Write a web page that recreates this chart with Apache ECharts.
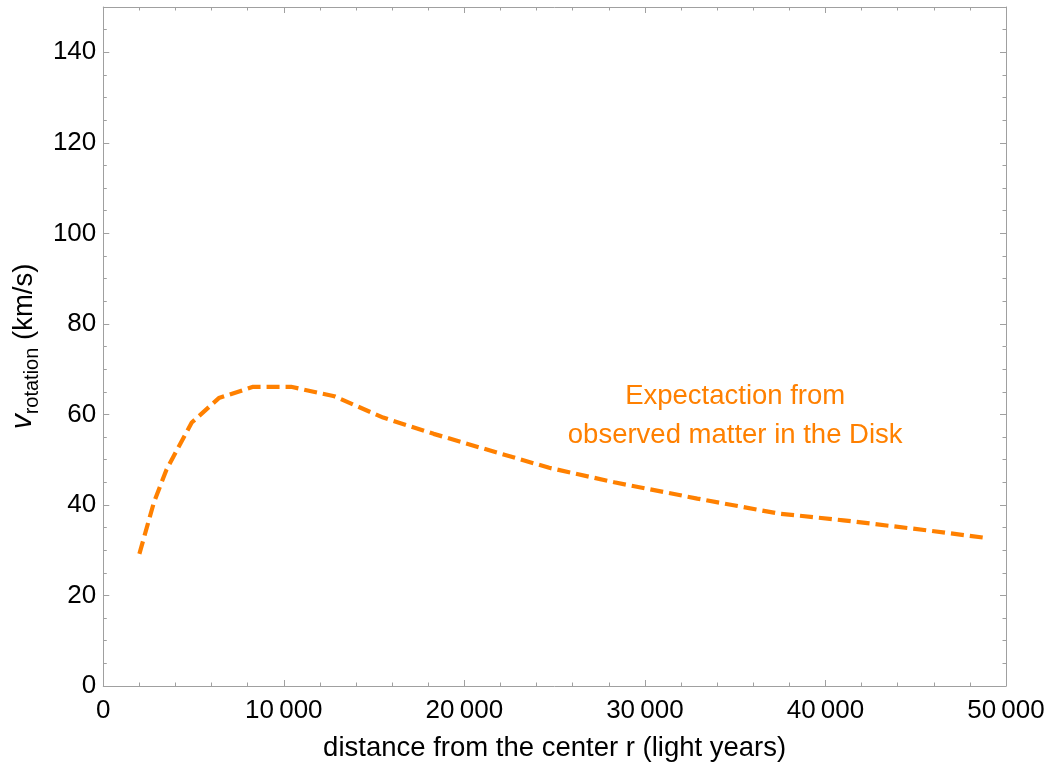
<!DOCTYPE html>
<html>
<head>
<meta charset="utf-8">
<title>Galaxy rotation curve</title>
<script src="https://cdn.jsdelivr.net/npm/echarts@6/dist/echarts.min.js"></script>
<style>
  html, body { margin: 0; padding: 0; background: #fff; }
  #chart { width: 1051px; height: 768px; }
</style>
</head>
<body>
<div id="chart"></div>
<script>
// Radius from the galactic center (light years)
const radius = [2000, 2800, 3500, 4100, 4900, 6400, 8300, 10400, 12800, 15500,
                18300, 21100, 24700, 28300, 32900, 37400, 41000, 45600, 48900];
// Rotation speed expected from the visible disk matter (km/s)
const speed = [29.2, 40.5, 47.8, 52.3, 58.2, 63.6, 66.1, 66.1, 64.0, 59.3,
               55.7, 52.4, 48.2, 45.0, 41.4, 38.1, 36.6, 34.4, 32.7];
// Tick values
const xMajorTicks = [0, 10000, 20000, 30000, 40000, 50000];
const yMajorTicks = [0, 20, 40, 60, 80, 100, 120, 140];
const annotationLines = ['Expectaction from', 'observed matter in the Disk'];

const FONT = '"Liberation Sans", Arial, sans-serif';
const FRAME = '#a0a0a0';
const ORANGE = '#ff8000';

const points = radius.map((r, i) => [r, speed[i]]);

function fmtX(v) {
  if (v === 0) return '0';
  const s = String(v);
  return s.slice(0, s.length - 3) + '\u2009' + s.slice(-3);
}

// Each side of the frame gets a major axis (line + long ticks) and a minor one (short ticks)
function xAxisDef(pos, major, withLabels) {
  return {
    type: 'value', position: pos, min: 0, max: 50000,
    interval: major ? 10000 : 2000,
    axisLine: { show: major, onZero: false, lineStyle: { color: FRAME, width: 1 } },
    axisTick: { show: true, inside: true, length: major ? 6 : 3.5,
                lineStyle: { color: FRAME, width: 1 } },
    axisLabel: withLabels ? {
      show: true, color: '#000', fontFamily: FONT, fontSize: 26, margin: 12,
      formatter: fmtX
    } : { show: false },
    splitLine: { show: false },
    name: withLabels ? 'distance from the center r (light years)' : '',
    nameLocation: 'middle', nameGap: 48,
    nameTextStyle: { color: '#000', fontFamily: FONT, fontSize: 27.5 }
  };
}

function yAxisDef(pos, major, withLabels) {
  return {
    type: 'value', position: pos, min: 0, max: 150,
    interval: major ? 20 : 5,
    axisLine: { show: major, onZero: false, lineStyle: { color: FRAME, width: 1 } },
    axisTick: { show: true, inside: true, length: major ? 6 : 3.5,
                lineStyle: { color: FRAME, width: 1 } },
    axisLabel: withLabels ? {
      show: true, color: '#000', fontFamily: FONT, fontSize: 26, margin: 7,
      showMaxLabel: false
    } : { show: false },
    splitLine: { show: false },
    name: withLabels ? '{v|v}{sub|rotation}{u| (km/s)}' : '',
    nameLocation: 'middle', nameGap: 50, nameRotate: 90,
    nameTextStyle: withLabels ? {
      color: '#000', fontFamily: FONT, fontSize: 27.5,
      rich: {
        v: { fontFamily: FONT, fontSize: 30, fontStyle: 'italic', color: '#000', verticalAlign: 'bottom' },
        sub: { fontFamily: FONT, fontSize: 20, color: '#000', verticalAlign: 'bottom', padding: [0, 0, -4, 0] },
        u: { fontFamily: FONT, fontSize: 27.5, color: '#000', verticalAlign: 'bottom' }
      }
    } : {}
  };
}

const chart = echarts.init(document.getElementById('chart'), null, { renderer: 'canvas' });

chart.setOption({
  animation: false,
  backgroundColor: '#fff',
  grid: { left: 101, right: 45, top: 7, bottom: 82, containLabel: false },
  xAxis: [
    xAxisDef('bottom', true, true),
    xAxisDef('bottom', false, false),
    xAxisDef('top', true, false),
    xAxisDef('top', false, false)
  ],
  yAxis: [
    yAxisDef('left', true, true),
    yAxisDef('left', false, false),
    yAxisDef('right', true, false),
    yAxisDef('right', false, false)
  ],
  series: [{
    type: 'line',
    xAxisIndex: 0, yAxisIndex: 0,
    data: points,
    showSymbol: false,
    smooth: false,
    lineStyle: { color: ORANGE, width: 4.2, type: [13, 6], cap: 'butt' }
  }]
});

// Curve annotation, anchored in data coordinates
const anchor = chart.convertToPixel({ xAxisIndex: 0, yAxisIndex: 0 }, [35000, 59.7]);
chart.setOption({
  graphic: [{
    type: 'text',
    x: anchor[0], y: anchor[1],
    style: {
      text: annotationLines.join('\n'),
      fill: ORANGE,
      font: '27.5px ' + FONT,
      align: 'center',
      verticalAlign: 'middle',
      lineHeight: 39
    }
  }]
});
</script>
</body>
</html>
